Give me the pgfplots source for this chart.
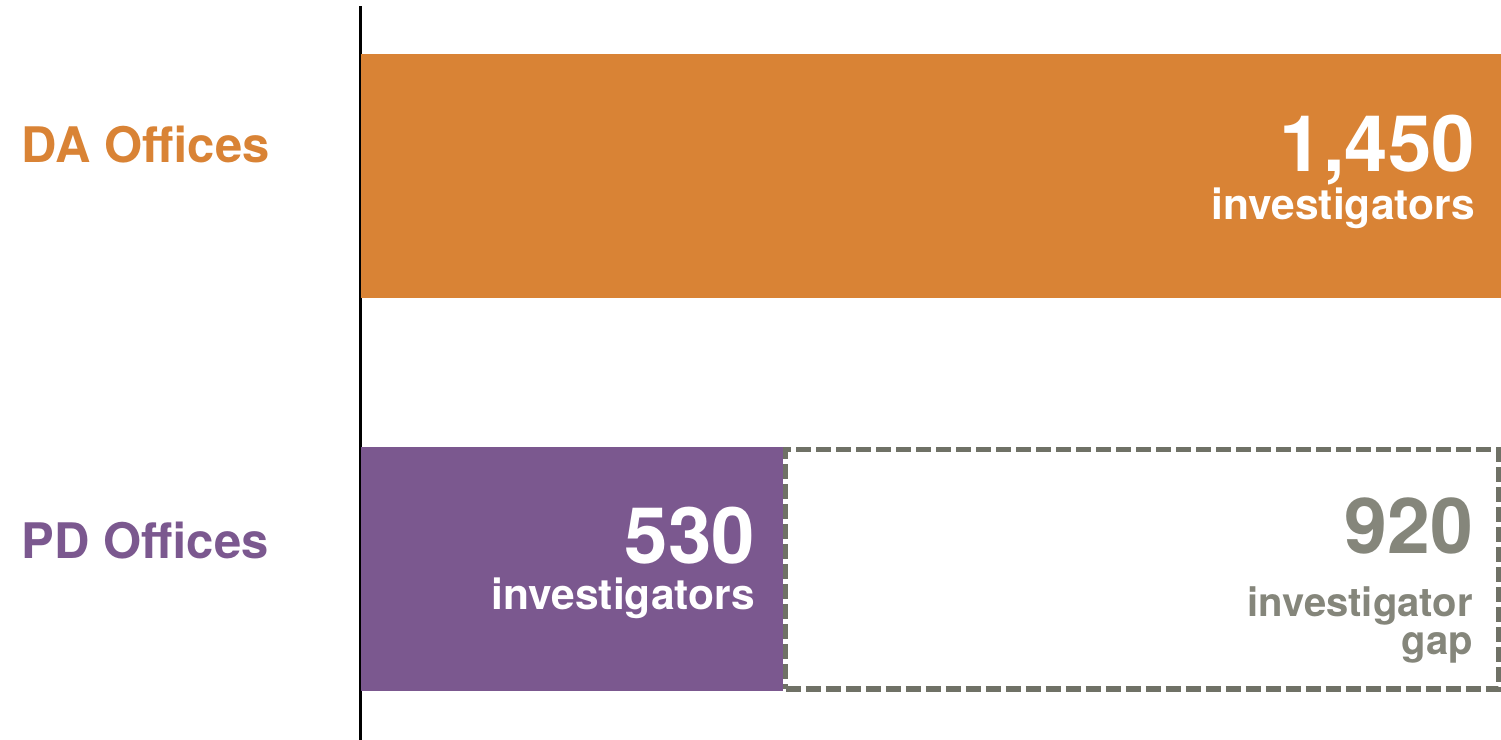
\documentclass[border=0pt]{standalone}
\usepackage{fontspec}
\setmainfont{TeX Gyre Heros}
\usepackage{pgfplots}
\pgfplotsset{compat=1.18}
\definecolor{daorange}{RGB}{217,131,53}
\definecolor{pdpurple}{RGB}{123,88,143}
\definecolor{gaptext}{RGB}{133,134,123}
\definecolor{gapline}{RGB}{111,113,102}
\begin{document}
\begin{tikzpicture}
\path[use as bounding box] (-360.8bp,0) rectangle (1140.2bp,740bp);
\begin{axis}[
  at={(0,0)}, anchor=south west,
  scale only axis,
  width=1140.2bp, height=734bp,
  xmin=0, xmax=1431,
  ymin=-0.4348, ymax=1.4317,
  axis x line=none,
  axis y line*=left,
  axis line style={line width=3.2bp, black},
  xtick=\empty, ytick=\empty,
  clip=true,
]
\addplot[xbar, bar shift=0pt, bar width=244bp, fill=daorange, draw=none] coordinates {(1450,1)};
\addplot[xbar, bar shift=0pt, bar width=244bp, fill=pdpurple, draw=none] coordinates {(530,0)};
\end{axis}
\begin{axis}[
  at={(0,0)}, anchor=south west,
  scale only axis,
  width=1140.2bp, height=734bp,
  xmin=-18.4, xmax=1453.2,
  ymin=-0.4348, ymax=1.4317,
  hide axis,
  xbar stacked,
  bar width=239.5bp,
  clip=false,
]
\addplot[draw=none, fill=none] coordinates {(530,0)};
\addplot[fill=white, draw=gapline, line width=5.5bp, dash pattern=on 15bp off 5bp] coordinates {(920,0)};
\end{axis}
% category labels
\node[anchor=base west, inner sep=0, font=\fontsize{49bp}{55bp}\selectfont\bfseries, text=daorange] at (-339.1bp,577.7bp) {DA Offices};
\node[anchor=base west, inner sep=0, font=\fontsize{49bp}{55bp}\selectfont\bfseries, text=pdpurple] at (-339.1bp,181bp) {PD Offices};
% value labels
\node[anchor=base east, inner sep=0, font=\fontsize{78bp}{80bp}\selectfont\bfseries, text=white] at (1114.2bp,568.3bp) {1,450};
\node[anchor=base east, inner sep=0, font=\fontsize{42.5bp}{45bp}\selectfont\bfseries, text=white] at (1114.2bp,520bp) {investigators};
\node[anchor=base east, inner sep=0, font=\fontsize{78bp}{80bp}\selectfont\bfseries, text=white] at (394.2bp,176bp) {530};
\node[anchor=base east, inner sep=0, font=\fontsize{42.5bp}{45bp}\selectfont\bfseries, text=white] at (394.2bp,130bp) {investigators};
\node[anchor=base east, inner sep=0, font=\fontsize{77bp}{80bp}\selectfont\bfseries, text=gaptext] at (1112.2bp,186bp) {920};
\node[anchor=base east, inner sep=0, align=right, font=\fontsize{40bp}{38bp}\selectfont\bfseries, text=gaptext] at (1112.2bp,85bp) {investigator\\gap};
\end{tikzpicture}
\end{document}
